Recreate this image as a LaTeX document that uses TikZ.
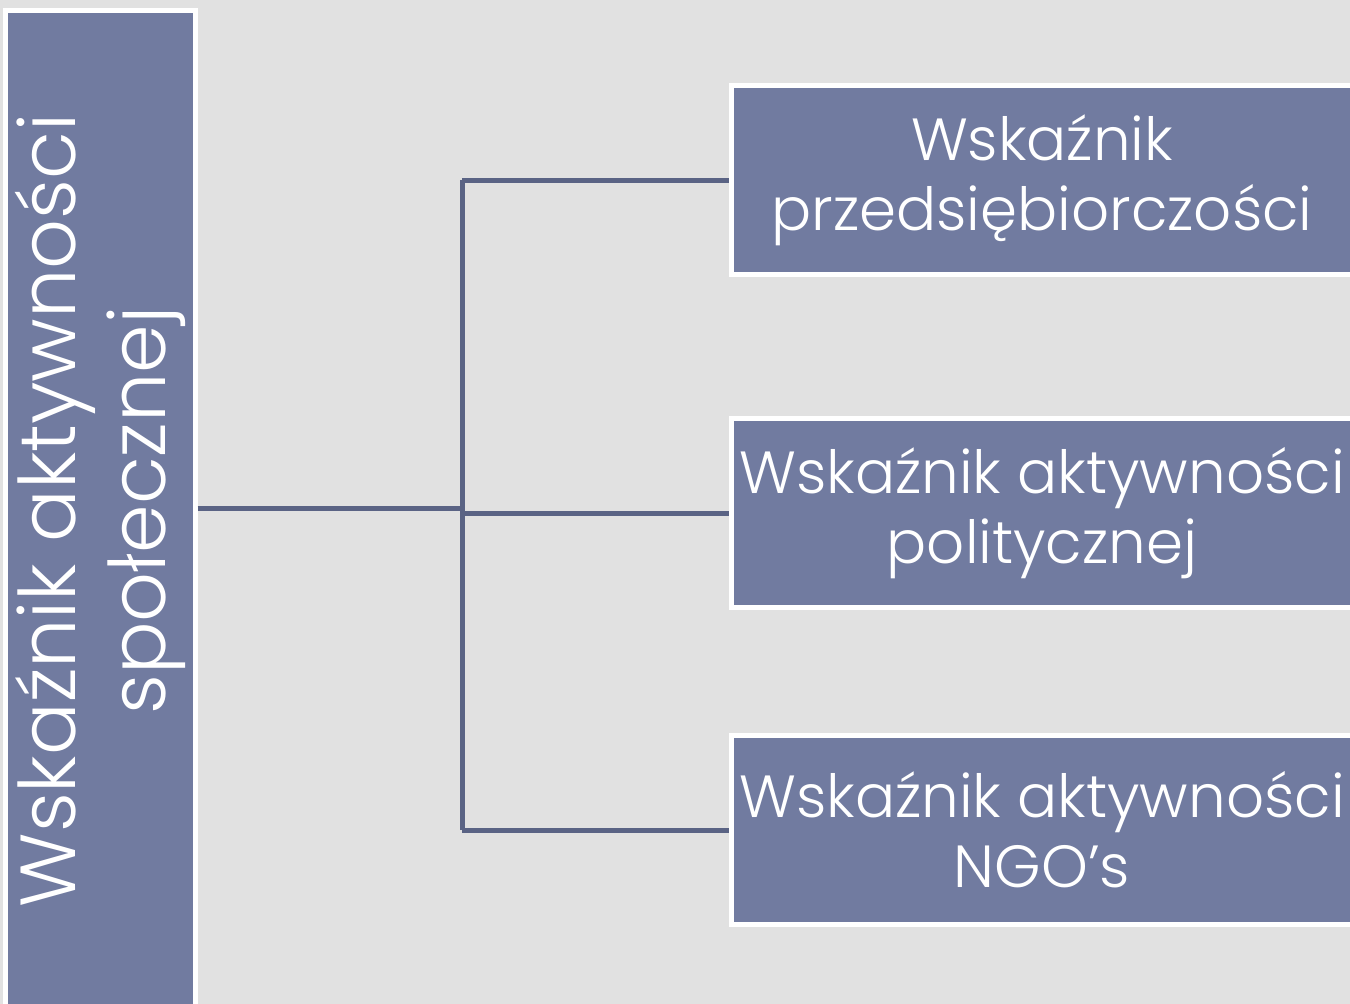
\documentclass[tikz,border=0pt]{standalone}
\usepackage{fontspec}
\setmainfont{Poppins}[UprightFont=* Light]
\definecolor{bg}{HTML}{E1E1E1}
\definecolor{boxfill}{HTML}{717BA0}
\definecolor{conn}{HTML}{5A6384}
\tikzset{
  pbox/.style={rectangle, fill=boxfill, draw=white, line width=5pt, text=white, align=center, inner sep=0pt},
  rbox/.style={pbox, minimum width=621pt, minimum height=189pt, font=\fontsize{59.5}{70}\selectfont},
  link/.style={draw=conn, line width=5pt}
}
\begin{document}
\begin{tikzpicture}[x=1pt,y=-1pt]
\useasboundingbox (0,0) rectangle (1350,1004);
\clip (0,0) rectangle (1350,1004);
\fill[bg] (0,0) rectangle (1350,1004);
\node[pbox, minimum width=1000pt, minimum height=189.5pt, rotate=90, font=\fontsize{78}{90}\selectfont] (main) at (100.25,510.5) {Wskaźnik aktywności\\społecznej};
\node[rbox] (b1) at (1042,180) {Wskaźnik\\przedsiębiorczości};
\node[rbox] (b2) at (1042,513) {Wskaźnik aktywności\\politycznej};
\node[rbox] (b3) at (1042,830) {Wskaźnik aktywności\\NGO’s};
\coordinate (j) at (462,508);
\coordinate (jt) at (462,180);
\coordinate (jm) at (462,513);
\coordinate (jb) at (462,830);
\draw[link] (main.south |- j) -- (j);
\draw[link, line cap=butt] (jt) -- (jb);
\draw[link] (jt) -- (b1.west);
\draw[link] (jm) -- (b2.west);
\draw[link] (jb) -- (b3.west);
\end{tikzpicture}
\end{document}
